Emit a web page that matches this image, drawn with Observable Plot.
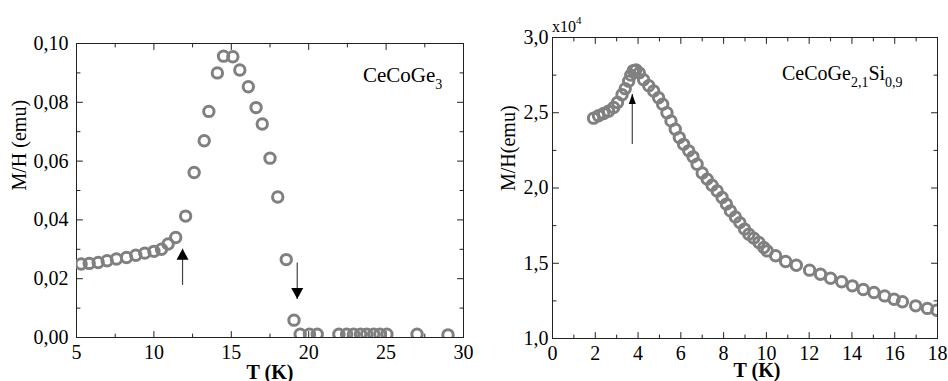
<!DOCTYPE html>
<html><head><meta charset="utf-8">
<script src="https://cdn.jsdelivr.net/npm/d3@7"></script>
<script src="https://cdn.jsdelivr.net/npm/@observablehq/plot@0.6"></script>
<style>
html,body{margin:0;padding:0;background:#fff;}
#wrap{display:flex;width:948px;height:381px;overflow:hidden;background:#fff;}
#wrap svg{display:block;overflow:visible;flex:none;}
</style></head><body><div id="wrap"></div>
<script>
// ---------- Left panel: CeCoGe3 ----------
const leftT = [5.3, 5.82, 6.4, 6.98, 7.58, 8.23, 8.83, 9.41, 10.0, 10.49, 10.92, 11.41,
  12.05, 12.6, 13.25, 13.55, 14.1, 14.5, 15.1, 15.55, 16.1, 16.6, 17.0, 17.5, 18.0, 18.55,
  19.05, 19.45, 20.05, 20.55, 21.95, 22.45, 22.9, 23.35, 23.75, 24.2, 24.6, 25.05, 27.0, 29.0];
const leftM = [0.025, 0.0252, 0.0255, 0.0261, 0.0267, 0.0272, 0.028, 0.0287, 0.0293, 0.030, 0.0318, 0.034,
  0.0413, 0.0561, 0.0669, 0.0769, 0.090, 0.0957, 0.0955, 0.091, 0.0853, 0.0782, 0.0726, 0.061, 0.0478, 0.0265,
  0.0059, 0.0011, 0.0011, 0.0011, 0.0011, 0.0011, 0.0011, 0.0011, 0.0011, 0.0011, 0.0011, 0.0011, 0.0011, 0.0009];
const leftXTicks = [5, 10, 15, 20, 25, 30];
const leftXMinor = [7.5, 12.5, 17.5, 22.5, 27.5];
const leftYTicks = [0, 0.02, 0.04, 0.06, 0.08, 0.10];
const leftYMinor = [0.01, 0.03, 0.05, 0.07, 0.09];
const leftArrows = [{x: 11.85, from: 0.0179, tip: 0.0302, dir: "up"}, {x: 19.26, from: 0.0255, tip: 0.0131, dir: "down"}];

// ---------- Right panel: CeCoGe2,1Si0,9 (x10^-4 emu) ----------
const rightT = [1.92, 2.15, 2.39, 2.62, 2.86, 3.04, 3.25, 3.40, 3.56, 3.66, 3.78, 3.9, 4.06, 4.26, 4.5, 4.73, 4.96,
  5.15, 5.35, 5.54, 5.74, 5.93, 6.13, 6.37, 6.57, 6.76, 7.0, 7.23, 7.46, 7.7, 7.93, 8.13, 8.32, 8.55, 8.76, 8.98,
  9.18, 9.41, 9.65, 9.88, 10.04, 10.43, 10.9, 11.4, 12.02, 12.53, 13.0, 13.52, 14.02, 14.53, 15.03, 15.53, 15.97,
  16.36, 16.98, 17.53, 17.97];
const rightM = [2.464, 2.48, 2.495, 2.51, 2.535, 2.568, 2.62, 2.66, 2.71, 2.75, 2.78, 2.785, 2.765, 2.72, 2.68, 2.645, 2.6,
  2.557, 2.50, 2.446, 2.39, 2.335, 2.29, 2.247, 2.207, 2.158, 2.10, 2.059, 2.019, 1.98, 1.937, 1.893, 1.848, 1.808, 1.77, 1.727,
  1.693, 1.667, 1.638, 1.605, 1.582, 1.55, 1.512, 1.487, 1.454, 1.427, 1.40, 1.377, 1.35, 1.326, 1.306, 1.283, 1.261,
  1.244, 1.217, 1.2, 1.188];
const rightXTicks = [0, 2, 4, 6, 8, 10, 12, 14, 16, 18];
const rightXMinor = [1, 3, 5, 7, 9, 11, 13, 15, 17];
const rightYTicks = [1.0, 1.5, 2.0, 2.5, 3.0];
const rightYMinor = [1.25, 1.75, 2.25, 2.75];
const rightArrows = [{x: 3.73, from: 2.292, tip: 2.624, dir: "up"}];

const font = "'Liberation Serif','Times New Roman',serif";
const grey = "#808080";
const ink = "#222";

const tickShape = {draw(ctx, l) { ctx.moveTo(0, 0); ctx.lineTo(0, -l); }};
function frameTicks(xs, ys, len) {
  const o = {shape: tickShape, anchor: "start", length: len, stroke: ink, strokeWidth: 1};
  return [
    Plot.vector(xs, {...o, x: d => d, frameAnchor: "bottom", rotate: 0}),
    Plot.vector(xs, {...o, x: d => d, frameAnchor: "top", rotate: 180}),
    Plot.vector(ys, {...o, y: d => d, frameAnchor: "left", rotate: 90}),
    Plot.vector(ys, {...o, y: d => d, frameAnchor: "right", rotate: -90})
  ];
}
function headSymbol(w, h, dir) {
  const s = dir === "up" ? 1 : -1;
  return {draw(ctx) { ctx.moveTo(0, 0); ctx.lineTo(w / 2, s * h); ctx.lineTo(-w / 2, s * h); ctx.closePath(); }};
}
function arrowMarks(arrows, w, h) {
  const marks = [Plot.link(arrows, {x1: "x", x2: "x", y1: "from", y2: "tip", stroke: "#444", strokeWidth: 1.2})];
  for (const dir of ["up", "down"]) {
    const sub = arrows.filter(a => a.dir === dir);
    if (sub.length) marks.push(Plot.dot(sub, {x: "x", y: "tip", symbol: headSymbol(w, h, dir), fill: "#000", stroke: "none"}));
  }
  return marks;
}

function panel(cfg) {
  const pts = cfg.T.map((t, i) => ({t, m: cfg.M[i]}));
  return Plot.plot({
    width: 474, height: 381,
    marginLeft: cfg.ml, marginRight: cfg.mr, marginTop: cfg.mt, marginBottom: cfg.mb,
    x: {domain: cfg.xd}, y: {domain: cfg.yd},
    style: {fontFamily: font, fontSize: "20px", color: "#000", background: "transparent"},
    marks: [
      Plot.frame({stroke: ink, strokeWidth: 1}),
      Plot.axisX({ticks: cfg.xt, tickSize: 0, tickPadding: 7, label: null, tickFormat: d => String(d)}),
      Plot.axisY({ticks: cfg.yt, tickSize: 0, tickPadding: cfg.ypad, label: null, tickFormat: cfg.yfmt}),
      ...frameTicks(cfg.xt, cfg.yt, 6),
      ...frameTicks(cfg.xm, cfg.ym, 3.5),
      Plot.text(["T (K)"], {frameAnchor: "bottom", text: d => d, dy: cfg.xlabDy, dx: cfg.xlabDx, lineAnchor: "bottom", fontWeight: "bold", fontSize: 20}),
      Plot.text([cfg.ylab], {frameAnchor: "left", text: d => d, dx: cfg.ylabDx, dy: cfg.ylabDy, rotate: -90, fontSize: 20}),
      Plot.dot(pts, {x: "t", y: "m", r: 5.2, stroke: grey, strokeWidth: 3, fill: "none", clip: true}),
      ...arrowMarks(cfg.arrows, cfg.hw, cfg.hh)
    ]
  });
}

const left = panel({
  T: leftT, M: leftM, xd: [5, 30], yd: [0, 0.10],
  xt: leftXTicks, xm: leftXMinor, yt: leftYTicks, ym: leftYMinor,
  ml: 76, mr: 11, mt: 43, mb: 44, ypad: 8,
  yfmt: d => d.toFixed(2).replace(".", ","),
  ylab: "M/H (emu)", ylabDx: -57, ylabDy: 0, xlabDy: 41, xlabDx: 0,
  arrows: leftArrows, hw: 12, hh: 11
});
const right = panel({
  T: rightT, M: rightM, xd: [0, 18], yd: [1.0, 3.0],
  xt: rightXTicks, xm: rightXMinor, yt: rightYTicks, ym: rightYMinor,
  ml: 78, mr: 11, mt: 37, mb: 43, ypad: 4,
  yfmt: d => d.toFixed(1).replace(".", ","),
  ylab: "M/H(emu)", ylabDx: -44, ylabDy: 3, xlabDy: 38, xlabDx: 12,
  arrows: rightArrows, hw: 7, hh: 10
});

const wrap = document.getElementById("wrap");
wrap.append(left, right);

function chem(svg, x, y, parts, size, subSize) {
  const t = d3.select(svg).append("text").attr("x", x).attr("y", y).attr("text-anchor", "start")
    .attr("font-family", font).attr("font-size", size).attr("fill", "#000");
  let sub = false;
  for (const [s, isSub] of parts) {
    const ts = t.append("tspan").text(s);
    if (isSub && !sub) { ts.attr("dy", 7).attr("font-size", subSize); sub = true; }
    else if (isSub) { ts.attr("font-size", subSize); }
    else if (!isSub && sub) { ts.attr("dy", -7); sub = false; }
  }
}
chem(left, 363, 82, [["CeCoGe", false], ["3", true]], 21, 14);
chem(right, 308, 80, [["CeCoGe", false], ["2,1", true], ["Si", false], ["0,9", true]], 20, 14);

// multiplier label of the right y axis
const mult = d3.select(right).append("text").attr("x", 78).attr("y", 32).attr("text-anchor", "start")
  .attr("font-family", font).attr("font-size", 16).attr("fill", "#000");
mult.append("tspan").text("x10");
mult.append("tspan").attr("dy", -8).attr("font-size", 11).text("4");
</script></body></html>
